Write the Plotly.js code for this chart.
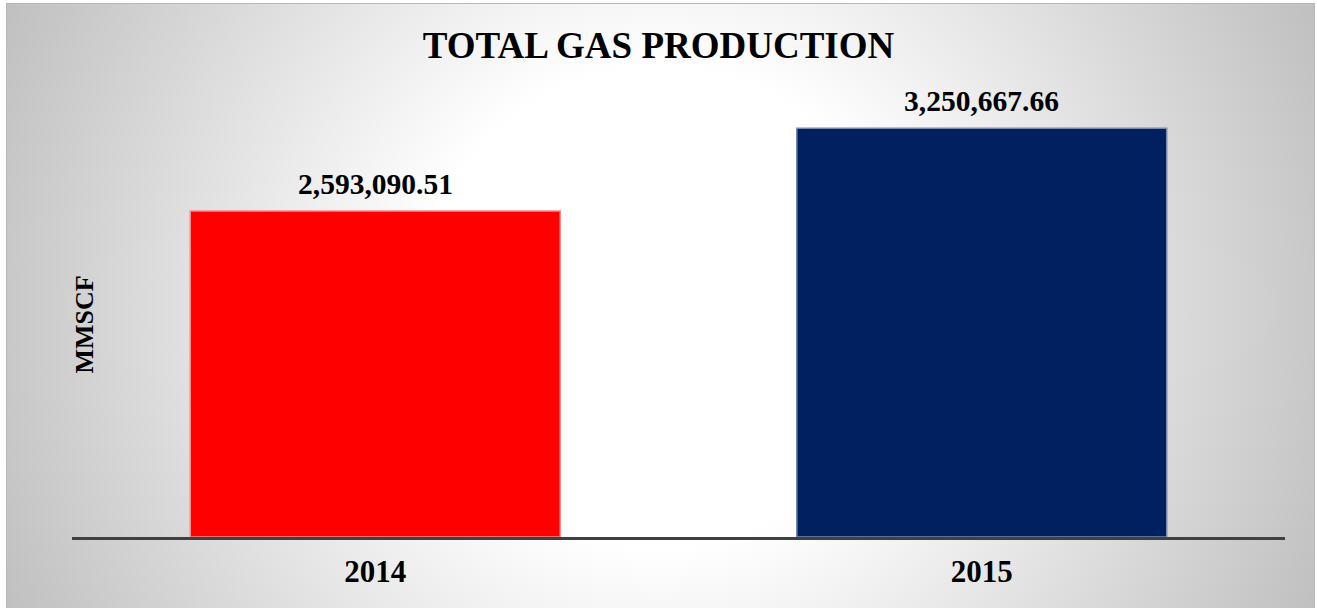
<!DOCTYPE html>
<html>
<head>
<meta charset="utf-8">
<script src="https://cdn.plot.ly/plotly-3.0.1.min.js"></script>
<style>
  html, body { margin: 0; padding: 0; background: #ffffff; }
  #wrap { position: relative; width: 1317px; height: 608px; overflow: hidden; }
  #bg {
    position: absolute; left: 6px; top: 3px; width: 1309px; height: 620px;
    border: 1px solid #b8b8b8; border-bottom: none; box-sizing: border-box;
    background: radial-gradient(circle farthest-corner at 50% 49%, #ffffff 0%, #ffffff 33%, #bfbfbf 100%);
  }
  #chart { position: absolute; left: 0; top: 0; width: 1317px; height: 608px; }
</style>
</head>
<body>
<div id="wrap">
  <div id="bg"></div>
  <div id="chart"></div>
</div>
<script>
const years = ['2014', '2015'];
const production = [2593090.51, 3250667.66];
const valueLabels = ['2,593,090.51', '3,250,667.66'];
const barColors = ['#ff0000', '#002060'];
const barEdges = ['#f58a8a', '#7a8aa8'];
const chartTitle = 'TOTAL GAS PRODUCTION';
const unitLabel = 'MMSCF';

const serif = '"Liberation Serif", "Times New Roman", serif';

const trace = {
  type: 'bar',
  x: years,
  y: production,
  marker: { color: barColors, line: { color: barEdges, width: 1.5 } },
  hoverinfo: 'x+y'
};

const annotations = years.map((yr, i) => ({
  x: i, y: production[i], xref: 'x', yref: 'y',
  text: valueLabels[i],
  showarrow: false, xanchor: 'center', yanchor: 'bottom', yshift: 9,
  font: { family: serif, size: 29.5, color: '#000000', weight: 'bold' }
}));
annotations.push({
  x: 0.0099, y: 0.483, xref: 'paper', yref: 'paper',
  text: unitLabel, textangle: -90,
  showarrow: false, xanchor: 'center', yanchor: 'middle',
  font: { family: serif, size: 26, color: '#000000', weight: 'bold' }
});

const layout = {
  width: 1317, height: 608,
  paper_bgcolor: 'rgba(0,0,0,0)',
  plot_bgcolor: 'rgba(0,0,0,0)',
  margin: { l: 72, r: 32, t: 97, b: 71, pad: 0 },
  title: {
    text: chartTitle,
    x: 0.5, xanchor: 'center', xref: 'container',
    y: 1 - 45.5 / 608, yref: 'container', yanchor: 'middle',
    font: { family: serif, size: 37, color: '#000000', weight: 'bold' }
  },
  xaxis: {
    type: 'category',
    range: [-0.5, 1.5],
    showline: true, linecolor: '#404040', linewidth: 3,
    showgrid: false, zeroline: false, ticks: 'outside', ticklen: 5, tickcolor: 'rgba(0,0,0,0)',
    tickfont: { family: serif, size: 31, color: '#000000', weight: 'bold' }
  },
  yaxis: {
    range: [0, 3500000],
    showline: false, showgrid: false, zeroline: false,
    showticklabels: false, ticks: ''
  },
  annotations: annotations,
  showlegend: false,
  bargap: 0.39
};

Plotly.newPlot('chart', [trace], layout, { displayModeBar: false, staticPlot: true });
</script>
</body>
</html>
